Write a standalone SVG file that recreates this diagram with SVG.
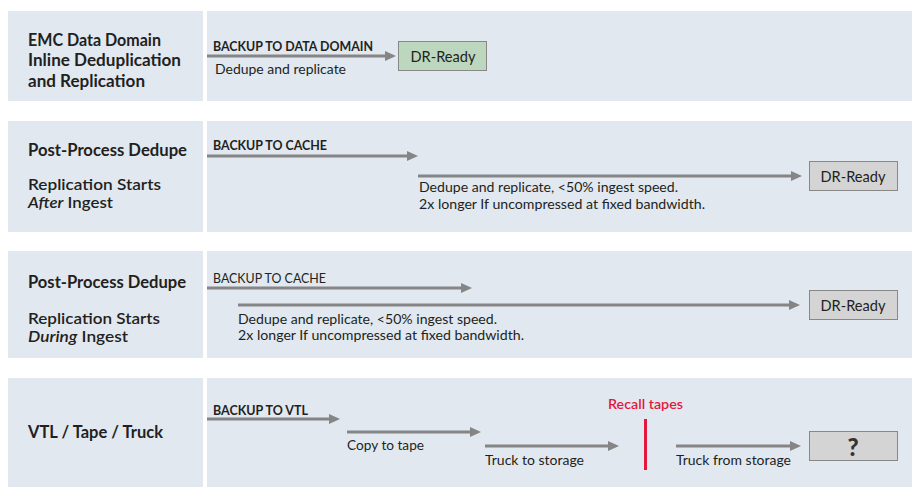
<svg xmlns="http://www.w3.org/2000/svg" width="912" height="487" viewBox="0 0 912 487">
<style>
.bg{fill:#e1e8f0}
.t{font-family:Lato,"Open Sans","Liberation Sans",sans-serif;fill:#231f20}
.h{font-size:16.5px;font-weight:700}
.s{font-size:14.8px;font-weight:600}
.c{font-size:12.5px;font-weight:700}
.cl{font-size:12.5px;font-weight:400}
.d{font-size:13px;font-weight:400}
.box{stroke:#888;stroke-width:1}
.bt{font-size:15px;font-weight:400;text-anchor:middle}
.ar{stroke:#858585;stroke-width:3;fill:none;marker-end:url(#ah)}
</style>
<defs>
<marker id="ah" markerUnits="userSpaceOnUse" markerWidth="11" markerHeight="10" refX="6" refY="5" orient="auto">
<path d="M0,0 L11,5 L0,10 z" fill="#858585"/>
</marker>
</defs>
<rect width="912" height="487" fill="#fff"/>
<g id="panels">
<rect class="bg" x="8" y="11" width="195" height="90"/>
<rect class="bg" x="207" y="11" width="705" height="90"/>
<rect class="bg" x="8" y="121" width="195" height="111"/>
<rect class="bg" x="207" y="121" width="705" height="111"/>
<rect class="bg" x="8" y="251" width="195" height="107"/>
<rect class="bg" x="207" y="251" width="705" height="107"/>
<rect class="bg" x="8" y="378" width="195" height="109"/>
<rect class="bg" x="207" y="378" width="705" height="109"/>
</g>
<g id="row1-label">
<text class="t h" x="28" y="46" textLength="133" lengthAdjust="spacingAndGlyphs">EMC Data Domain</text>
<text class="t h" x="28" y="66" textLength="153" lengthAdjust="spacingAndGlyphs">Inline Deduplication</text>
<text class="t h" x="28" y="87" textLength="117" lengthAdjust="spacingAndGlyphs">and Replication</text>
</g>
<g id="row2-label">
<text class="t h" x="28" y="156" textLength="159" lengthAdjust="spacingAndGlyphs">Post-Process Dedupe</text>
<text class="t s" x="28" y="190" textLength="133" lengthAdjust="spacingAndGlyphs">Replication Starts</text>
<text class="t s" x="28" y="208" textLength="85" lengthAdjust="spacingAndGlyphs"><tspan font-style="italic">After</tspan> Ingest</text>
</g>
<g id="row3-label">
<text class="t h" x="28" y="288" textLength="158" lengthAdjust="spacingAndGlyphs">Post-Process Dedupe</text>
<text class="t s" x="28" y="324" textLength="132" lengthAdjust="spacingAndGlyphs">Replication Starts</text>
<text class="t s" x="28" y="342" textLength="100" lengthAdjust="spacingAndGlyphs"><tspan font-style="italic">During</tspan> Ingest</text>
</g>
<g id="row4-label">
<text class="t h" x="28" y="438" textLength="135" lengthAdjust="spacingAndGlyphs">VTL / Tape / Truck</text>
</g>
<g id="connectors">
<line class="ar" x1="207" y1="56" x2="391" y2="56"/>
<line class="ar" x1="207" y1="156" x2="413" y2="156"/>
<line class="ar" x1="418" y1="176" x2="797" y2="176"/>
<line class="ar" x1="207" y1="288" x2="467" y2="288"/>
<line class="ar" x1="238" y1="305" x2="795" y2="305"/>
<line class="ar" x1="207" y1="419" x2="335" y2="419"/>
<line class="ar" x1="347" y1="432" x2="476" y2="432"/>
<line class="ar" x1="485" y1="446" x2="614" y2="446"/>
<line class="ar" x1="676" y1="446" x2="796" y2="446"/>
</g>
<g id="connector-labels">
<text class="t c" x="213" y="51" textLength="160" lengthAdjust="spacingAndGlyphs">BACKUP TO DATA DOMAIN</text>
<text class="t d" x="215" y="74" textLength="131" lengthAdjust="spacingAndGlyphs">Dedupe and replicate</text>
<text class="t c" x="213" y="150" textLength="114" lengthAdjust="spacingAndGlyphs">BACKUP TO CACHE</text>
<text class="t d" x="419" y="192" textLength="259" lengthAdjust="spacingAndGlyphs">Dedupe and replicate, &lt;50% ingest speed.</text>
<text class="t d" x="419" y="209" textLength="286" lengthAdjust="spacingAndGlyphs">2x longer If uncompressed at fixed bandwidth.</text>
<text class="t cl" x="213" y="283" textLength="113" lengthAdjust="spacingAndGlyphs">BACKUP TO CACHE</text>
<text class="t d" x="238" y="324" textLength="259" lengthAdjust="spacingAndGlyphs">Dedupe and replicate, &lt;50% ingest speed.</text>
<text class="t d" x="238" y="340" textLength="286" lengthAdjust="spacingAndGlyphs">2x longer If uncompressed at fixed bandwidth.</text>
<text class="t c" x="213" y="415" textLength="95" lengthAdjust="spacingAndGlyphs">BACKUP TO VTL</text>
<text class="t d" x="347" y="450" textLength="77" lengthAdjust="spacingAndGlyphs">Copy to tape</text>
<text class="t d" x="485" y="465" textLength="99" lengthAdjust="spacingAndGlyphs">Truck to storage</text>
<text class="t d" x="676" y="465" textLength="115" lengthAdjust="spacingAndGlyphs">Truck from storage</text>
</g>
<g id="recall">
<line x1="645.5" y1="419" x2="645.5" y2="470" stroke="#e4173e" stroke-width="3"/>
<text class="t" x="608" y="409" font-size="13" font-weight="600" style="fill:#e4173e" textLength="75" lengthAdjust="spacingAndGlyphs">Recall tapes</text>
</g>
<g id="dr-ready-1">
<rect class="box" x="398.5" y="41.5" width="88" height="29" fill="#bdd7bf"/>
<text class="t bt" x="443" y="62" textLength="65" lengthAdjust="spacingAndGlyphs">DR-Ready</text>
</g>
<g id="dr-ready-2">
<rect class="box" x="809.5" y="161.5" width="88" height="29" fill="#d4d4d4"/>
<text class="t bt" x="853" y="182" textLength="65" lengthAdjust="spacingAndGlyphs">DR-Ready</text>
</g>
<g id="dr-ready-3">
<rect class="box" x="809.5" y="290.5" width="88" height="29" fill="#d4d4d4"/>
<text class="t bt" x="853" y="311" textLength="65" lengthAdjust="spacingAndGlyphs">DR-Ready</text>
</g>
<g id="unknown">
<rect class="box" x="809.5" y="431.5" width="88" height="29" fill="#d4d4d4"/>
<text class="t" x="853" y="456" font-size="24" font-weight="900" text-anchor="middle" style="fill:#333">?</text>
</g>
</svg>
